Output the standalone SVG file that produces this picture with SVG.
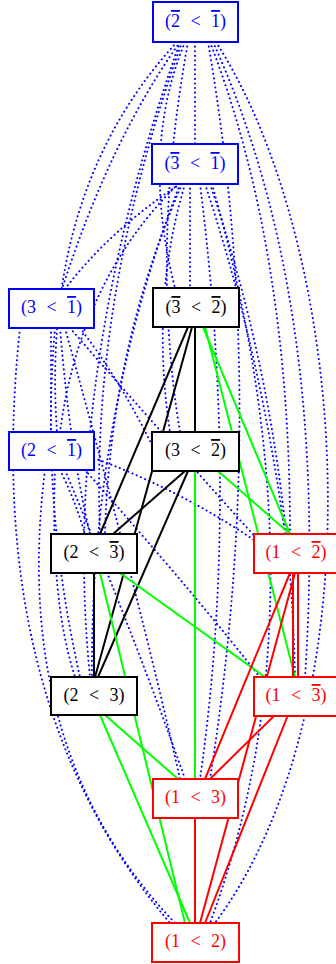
<svg xmlns="http://www.w3.org/2000/svg" width="336" height="964" viewBox="0 0 336 964">
<style>
.n rect{fill:#fff;stroke-width:2}
.b rect{stroke:#0000ff}.b text{fill:#0000ff}
.k rect{stroke:#000}.k text{fill:#000}
.r rect{stroke:#ff0000}.r text{fill:#ff0000}
text{font-family:"Liberation Serif","DejaVu Serif",serif;font-size:18px;text-anchor:middle;word-spacing:6px}
.o{text-decoration:overline}
.d{fill:none;stroke:#0000ff;stroke-width:2;stroke-dasharray:0.1 4.5;stroke-linecap:round}
.s{fill:none;stroke-width:2}
.g{stroke:#00ff00}.rk{stroke:#000}.rr{stroke:#ff0000}
</style>
<rect width="336" height="964" fill="#fff"/>
<g id="connectors">
<g id="dotted">
<path class="d" d="M195 42 L195 144"/>
<path class="d" d="M180 42 Q110 140 62 289"/>
<path class="d" d="M177 42 Q40 190 57 432"/>
<path class="d" d="M185 42 Q140 150 175 288"/>
<path class="d" d="M188 42 Q150 250 180 432"/>
<path class="d" d="M182 42 Q90 300 100 534"/>
<path class="d" d="M180 42 Q60 380 90 677"/>
<path class="d" d="M210 42 Q290 250 290 534"/>
<path class="d" d="M213 42 Q330 300 305 677"/>
<path class="d" d="M208 42 Q270 400 210 779"/>
<path class="d" d="M216 42 C350 250 380 700 215 923"/>
<path class="d" d="M180 184 Q110 230 65 289"/>
<path class="d" d="M178 184 Q80 280 60 432"/>
<path class="d" d="M190 184 L190 288"/>
<path class="d" d="M185 184 Q150 300 170 432"/>
<path class="d" d="M182 184 Q110 350 105 534"/>
<path class="d" d="M180 184 Q90 420 92 677"/>
<path class="d" d="M205 184 Q260 350 285 534"/>
<path class="d" d="M210 184 Q290 420 295 677"/>
<path class="d" d="M200 184 Q240 500 200 779"/>
<path class="d" d="M212 184 Q330 600 210 923"/>
<path class="d" d="M51 328 L51 432"/>
<path class="d" d="M80 328 Q120 380 152 445"/>
<path class="d" d="M70 328 Q150 420 258 540"/>
<path class="d" d="M60 328 Q70 450 90 534"/>
<path class="d" d="M55 328 Q40 500 80 677"/>
<path class="d" d="M65 328 Q140 600 180 779"/>
<path class="d" d="M20 328 Q-20 700 170 923"/>
<path class="d" d="M60 470 Q75 500 85 534"/>
<path class="d" d="M55 470 Q50 600 75 677"/>
<path class="d" d="M94 458 Q180 490 254 540"/>
<path class="d" d="M65 470 Q140 650 185 779"/>
<path class="d" d="M45 470 Q10 750 175 923"/>
<path class="d" d="M85 470 Q200 600 262 680"/>
</g>
<g id="solid">
<path class="s rk" d="M195 327 L195 432"/>
<path class="s rk" d="M188 327 L100 534"/>
<path class="s rk" d="M192 327 L95 677"/>
<path class="s rk" d="M185 471 L113 534"/>
<path class="s rk" d="M188 471 L98 677"/>
<path class="s rk" d="M94 573 L94 677"/>
<path class="s g" d="M203 327 L290 534"/>
<path class="s g" d="M205 327 L295 677"/>
<path class="s g" d="M218 471 L290 534"/>
<path class="s g" d="M195 471 L195 779"/>
<path class="s g" d="M120 573 L265 677"/>
<path class="s g" d="M100 573 L185 923"/>
<path class="s g" d="M105 715 L178 779"/>
<path class="s g" d="M100 715 L190 923"/>
<path class="s rr" d="M293 573 L293 677"/>
<path class="s rr" d="M298 573 L298 677"/>
<path class="s rr" d="M290 573 L205 779"/>
<path class="s rr" d="M295 573 L200 923"/>
<path class="s rr" d="M275 715 L210 779"/>
<path class="s rr" d="M288 715 L205 923"/>
<path class="s rr" d="M195 818 L195 923"/>
</g>
</g>
<g id="A" class="n b"><rect x="153" y="2" width="85" height="40"/><text x="195.5" y="27">(<tspan class="o">2</tspan> &lt; <tspan class="o">1</tspan>)</text></g>
<g id="B" class="n b"><rect x="152" y="144" width="86" height="40"/><text x="195" y="169">(<tspan class="o">3</tspan> &lt; <tspan class="o">1</tspan>)</text></g>
<g id="C" class="n b"><rect x="9" y="289" width="85" height="39"/><text x="51.5" y="313">(3 &lt; <tspan class="o">1</tspan>)</text></g>
<g id="D" class="n k"><rect x="153" y="288" width="86" height="39"/><text x="196" y="313">(<tspan class="o">3</tspan> &lt; <tspan class="o">2</tspan>)</text></g>
<g id="E" class="n b"><rect x="9" y="432" width="85" height="38"/><text x="51.5" y="456">(2 &lt; <tspan class="o">1</tspan>)</text></g>
<g id="F" class="n k"><rect x="152" y="432" width="87" height="39"/><text x="195.5" y="456">(3 &lt; <tspan class="o">2</tspan>)</text></g>
<g id="G" class="n k"><rect x="51" y="534" width="86" height="39"/><text x="94" y="558">(2 &lt; <tspan class="o">3</tspan>)</text></g>
<g id="H" class="n r"><rect x="254" y="534" width="84" height="39"/><text x="296" y="558">(1 &lt; <tspan class="o">2</tspan>)</text></g>
<g id="I" class="n k"><rect x="51" y="677" width="86" height="38"/><text x="94" y="701">(2 &lt; 3)</text></g>
<g id="J" class="n r"><rect x="254" y="677" width="84" height="39"/><text x="296" y="701">(1 &lt; <tspan class="o">3</tspan>)</text></g>
<g id="K" class="n r"><rect x="153" y="779" width="85" height="39"/><text x="195.5" y="803">(1 &lt; 3)</text></g>
<g id="L" class="n r"><rect x="152" y="923" width="87" height="39"/><text x="195.5" y="947">(1 &lt; 2)</text></g>
</svg>
